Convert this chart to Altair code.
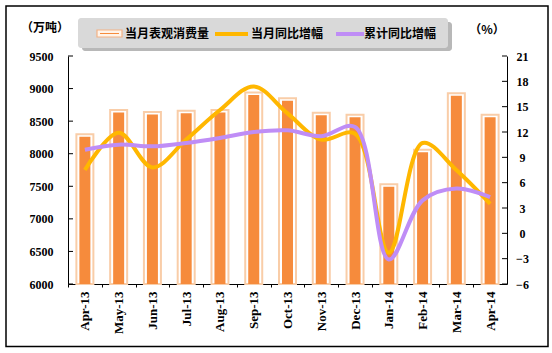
import altair as alt
import pandas as pd

months = ["Apr-13", "May-13", "Jun-13", "Jul-13", "Aug-13", "Sep-13", "Oct-13",
          "Nov-13", "Dec-13", "Jan-14", "Feb-14", "Mar-14", "Apr-14"]
consumption = [8300, 8670, 8640, 8660, 8670, 8940, 8850, 8630, 8600, 7530, 8060, 8930, 8600]
yoy_month = [7.5, 11.9, 7.8, 11.1, 14.6, 17.4, 14.2, 11.1, 11.8, -2.3, 10.7, 7.5, 3.5]
yoy_cum = [9.9, 10.5, 10.3, 10.7, 11.3, 12.0, 12.2, 11.5, 12.6, -3.1, 3.9, 5.3, 4.3]
left_ticks = [6000, 6500, 7000, 7500, 8000, 8500, 9000, 9500]
right_ticks = [-6, -3, 0, 3, 6, 9, 12, 15, 18, 21]
series_names = ["当月表观消费量", "当月同比增幅", "累计同比增幅"]
unit_left = "（万吨）"
unit_right = "（%）"

ORANGE = "#f68b3c"
PEACH = "#f9cda8"
YELLOW = "#ffb700"
PURPLE = "#bf8df6"
NUMFONT = "Liberation Serif"
CJK = "Noto Sans CJK SC"

W, H = 439, 228
band = W / len(months)

df = pd.DataFrame({"month": months, "cons": consumption, "yoy": yoy_month, "cum": yoy_cum})
lt = pd.DataFrame({"v": left_ticks})
rt = pd.DataFrame({"v": right_ticks})

x_enc = alt.X("month:N", sort=months,
              scale=alt.Scale(paddingInner=0, paddingOuter=0),
              axis=alt.Axis(title=None, labelAngle=-90, labelFont=NUMFONT, labelFontWeight="bold",
                            labelFontSize=13, labelColor="black", domainColor="black",
                            tickColor="black", tickSize=3, tickOffset=-band / 2,
                            labelOffset=band / 2, labelPadding=4))

yl_scale = alt.Scale(domain=[6000, 9500], zero=False, nice=False)
yr_scale = alt.Scale(domain=[-6, 21], zero=False, nice=False)

left_axis = alt.Axis(title=None, values=left_ticks, ticks=False, grid=False, domainColor="black",
                     labelFont=NUMFONT, labelFontWeight="bold", labelFontSize=12,
                     labelColor="black", labelPadding=15, format="d")
right_axis = alt.Axis(title=None, orient="right", values=right_ticks, ticks=False, grid=False,
                      domainColor="black", labelFont=NUMFONT, labelFontWeight="bold",
                      labelFontSize=12, labelColor="black", labelPadding=15, labelAlign="center",
                      format="d")

base = alt.Chart(df)
outer = base.mark_bar(size=17, fill="white", stroke=PEACH, strokeWidth=2).encode(
    x=x_enc, y=alt.Y("cons:Q", scale=yl_scale, axis=left_axis), y2=alt.datum(6000))
inner = base.mark_bar(size=11, color=ORANGE, yOffset=2.5).encode(
    x=x_enc, y=alt.Y("cons:Q", scale=yl_scale, axis=left_axis), y2=alt.datum(6000))
lticks = alt.Chart(lt).mark_rule(color="black").encode(
    y=alt.Y("v:Q", scale=yl_scale, axis=left_axis), x=alt.value(0), x2=alt.value(5))
bars = alt.layer(outer, inner, lticks)

l1 = base.mark_line(interpolate="catmull-rom", color=YELLOW, strokeWidth=4).encode(
    x=x_enc, y=alt.Y("yoy:Q", scale=yr_scale, axis=right_axis))
l2 = base.mark_line(interpolate="catmull-rom", color=PURPLE, strokeWidth=4).encode(
    x=x_enc, y=alt.Y("cum:Q", scale=yr_scale, axis=right_axis))
rticks = alt.Chart(rt).mark_rule(color="black").encode(
    y=alt.Y("v:Q", scale=yr_scale, axis=right_axis), x=alt.value(W - 5), x2=alt.value(W))
lines = alt.layer(l1, l2, rticks)

one = alt.Chart(pd.DataFrame({"a": [0]}))
border = one.mark_rect(filled=False, stroke="black", strokeWidth=1.5).encode(
    x=alt.value(-62), x2=alt.value(480), y=alt.value(-50), y2=alt.value(290.5))
shadow = one.mark_rect(fill="#9a9a9a", opacity=0.7, cornerRadius=3).encode(
    x=alt.value(14), x2=alt.value(384), y=alt.value(-34), y2=alt.value(-5))
box = one.mark_rect(fill="#d9d9d9", cornerRadius=3).encode(
    x=alt.value(10), x2=alt.value(380), y=alt.value(-38), y2=alt.value(-8))
sw_outer = one.mark_rect(fill="#fff4ea", stroke="#f4b184", strokeWidth=1.2).encode(
    x=alt.value(29), x2=alt.value(54), y=alt.value(-26), y2=alt.value(-19))
sw_inner = one.mark_rect(fill=ORANGE).encode(
    x=alt.value(32), x2=alt.value(51), y=alt.value(-23), y2=alt.value(-22))
leg_y = alt.Chart(pd.DataFrame({"a": [0]})).mark_rule(color=YELLOW, strokeWidth=4).encode(
    x=alt.value(147), x2=alt.value(180), y=alt.value(-22))
leg_p = alt.Chart(pd.DataFrame({"a": [0]})).mark_rule(color=PURPLE, strokeWidth=4).encode(
    x=alt.value(268), x2=alt.value(296), y=alt.value(-22))

def txt(s, x, y, align="left", size=12):
    return one.mark_text(align=align, baseline="middle", font=CJK, fontWeight="bold",
                         fontSize=size, color="black").encode(
        x=alt.value(x), y=alt.value(y), text=alt.value(s))

t1 = txt(series_names[0], 57, -22)
t2 = txt(series_names[1], 183, -22)
t3 = txt(series_names[2], 296, -22)
u1 = txt(unit_left, -23, -28, align="center")
u2 = txt(unit_right, 419, -26, align="center")

deco = alt.layer(border, shadow, box, sw_outer, sw_inner, leg_y, leg_p, t1, t2, t3, u1, u2)

chart = alt.layer(bars, lines, deco).resolve_scale(y="independent").properties(
    width=W, height=H,
    autosize=alt.AutoSizeParams(type="none"),
    padding={"left": 68, "top": 56, "right": 45, "bottom": 69},
    background="white",
).configure_view(stroke=None)

chart.save("out.html", embed_options={"renderer": "svg", "actions": False})
